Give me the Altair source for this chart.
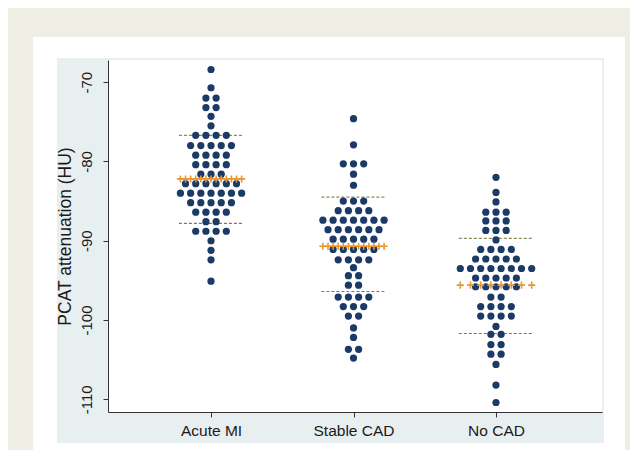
import altair as alt
import pandas as pd

groups = ["Acute MI", "Stable CAD", "No CAD"]

# Dot rows: value (HU) of each row and number of dots in it
mi_y = [-68.4, -70.7, -72.0, -73.2, -74.3, -75.5, -76.7, -78.0, -79.2, -80.4, -81.6,
        -82.8, -84.0, -85.2, -86.4, -87.6, -88.8, -90.0, -91.2, -92.4, -95.1]
mi_n = [1, 1, 2, 2, 1, 1, 4, 5, 4, 4, 3, 6, 7, 5, 4, 2, 4, 1, 1, 1, 1]

st_y = [-74.6, -77.9, -80.3, -81.6, -83.0, -85.0, -86.2, -87.4, -88.6, -89.8, -91.1,
        -92.4, -93.4, -94.4, -95.6, -97.1, -98.3, -99.5, -101.0, -102.2, -103.7, -104.8]
st_n = [1, 1, 3, 1, 1, 3, 4, 7, 6, 5, 5, 4, 1, 2, 2, 4, 3, 2, 1, 1, 2, 1]

nc_y = [-82.0, -83.9, -85.1, -86.4, -87.5, -88.7, -89.9, -91.1, -92.3, -93.5, -94.7,
        -95.8, -97.1, -98.3, -99.5, -100.8, -101.8, -103.1, -104.3, -105.6, -108.2, -110.4]
nc_n = [1, 1, 1, 3, 3, 3, 1, 4, 5, 8, 5, 5, 2, 4, 4, 1, 2, 2, 2, 1, 1, 1]

means = [-82.2, -90.7, -95.6]
upper = [-76.7, -84.5, -89.7]
lower = [-87.8, -96.4, -101.7]
y_ticks = [-70, -80, -90, -100, -110]

# ---- layout / style ----
W, H = 494, 352
x_dom = [0.277, 3.744]
y_dom = [-111.6, -67.2]
px_per_unit = W / (x_dom[1] - x_dom[0])
step = 10.2 / px_per_unit
plus_counts = [13, 13, 8]

DOT = "#1b3a66"
PLUS = "#e8962e"
UP = "#8a8a52"
LOW = "#a3606c"
BEIGE = "#efeee5"
GREGION = "#e8eff1"
FONT = "Liberation Sans"
TXT = "#1a1a1a"

all_y = [mi_y, st_y, nc_y]
all_n = [mi_n, st_n, nc_n]

rows = []
for gi, (ys, ns) in enumerate(zip(all_y, all_n), start=1):
    for y, n in zip(ys, ns):
        for j in range(n):
            rows.append({"x": gi + (j - (n - 1) / 2) * step, "y": y, "group": groups[gi - 1]})
pts = pd.DataFrame(rows)

line_rows = []
plus_rows = []
for gi in range(1, 4):
    half = (max(all_n[gi - 1]) - 1) / 2 * step
    hl = half + 1.5 / px_per_unit
    line_rows.append({"x": gi - hl, "x2": gi + hl, "up": upper[gi - 1], "low": lower[gi - 1]})
    c = plus_counts[gi - 1]
    for k in range(c):
        plus_rows.append({"x": gi - half + k * (2 * half / (c - 1)), "y": means[gi - 1]})
lines = pd.DataFrame(line_rows)
pluses = pd.DataFrame(plus_rows)

label_expr = "datum.value == 1 ? 'Acute MI' : datum.value == 2 ? 'Stable CAD' : datum.value == 3 ? 'No CAD' : ''"

x_axis = alt.Axis(values=[1, 2, 3], labelExpr=label_expr, title=None, grid=False,
                  tickSize=5, labelPadding=6, labelFont=FONT, labelFontSize=15.5,
                  labelColor=TXT, domainColor="#333", tickColor="#333", labelAngle=0,
                  zindex=2)
y_axis = alt.Axis(values=y_ticks, labelExpr="'' + datum.value", title="PCAT attenuation (HU)",
                  grid=False, tickSize=5, labelAngle=270, labelAlign="center",
                  labelBaseline="bottom", labelPadding=9, labelFont=FONT, labelFontSize=15,
                  labelColor=TXT, titleFont=FONT, titleFontSize=17.5, titleFontWeight="normal",
                  titleColor=TXT, titlePadding=5, domainColor="#333", tickColor="#333",
                  zindex=2)

xs = alt.Scale(domain=x_dom, nice=False, zero=False)
ys_ = alt.Scale(domain=y_dom, nice=False, zero=False)

one = pd.DataFrame({"a": [0]})


def panel(x0, x1, y0, y1, color):
    return alt.Chart(one).mark_rect(color=color, strokeWidth=0).encode(
        x=alt.value(x0), x2=alt.value(x1), y=alt.value(y0), y2=alt.value(y1))


bg_white = panel(-75, 517, -23, 420, "white")
bg_region = panel(-51, 496, -2, 383, GREGION)
bg_plot = panel(0, W, 0, H, "white")

dots = alt.Chart(pts).mark_circle(color=DOT, opacity=1, size=52).encode(
    x=alt.X("x:Q", scale=xs, axis=x_axis),
    y=alt.Y("y:Q", scale=ys_, axis=y_axis),
)

up_l = alt.Chart(lines).mark_rule(color=UP, strokeDash=[3, 2], strokeWidth=1.2).encode(
    x=alt.X("x:Q", scale=xs, axis=x_axis), x2="x2:Q",
    y=alt.Y("up:Q", scale=ys_, axis=y_axis))
low_l = alt.Chart(lines).mark_rule(color=LOW, strokeDash=[3, 2], strokeWidth=1.2).encode(
    x=alt.X("x:Q", scale=xs, axis=x_axis), x2="x2:Q",
    y=alt.Y("low:Q", scale=ys_, axis=y_axis))

plus = alt.Chart(pluses).mark_point(shape="M-1,0L1,0M0,-1L0,1", filled=False, color=PLUS,
                                    strokeWidth=1.6, size=50, opacity=1).encode(
    x=alt.X("x:Q", scale=xs, axis=x_axis),
    y=alt.Y("y:Q", scale=ys_, axis=y_axis))

chart = alt.layer(bg_white, bg_region, bg_plot, up_l, low_l, dots, plus).properties(
    width=W, height=H,
    background=BEIGE,
    padding={"left": 100, "top": 52, "right": 28, "bottom": 38},
    autosize=alt.AutoSizeParams(type="none"),
).configure_view(stroke=None)

chart.save("out.html", embed_options={"renderer": "svg", "actions": False})
